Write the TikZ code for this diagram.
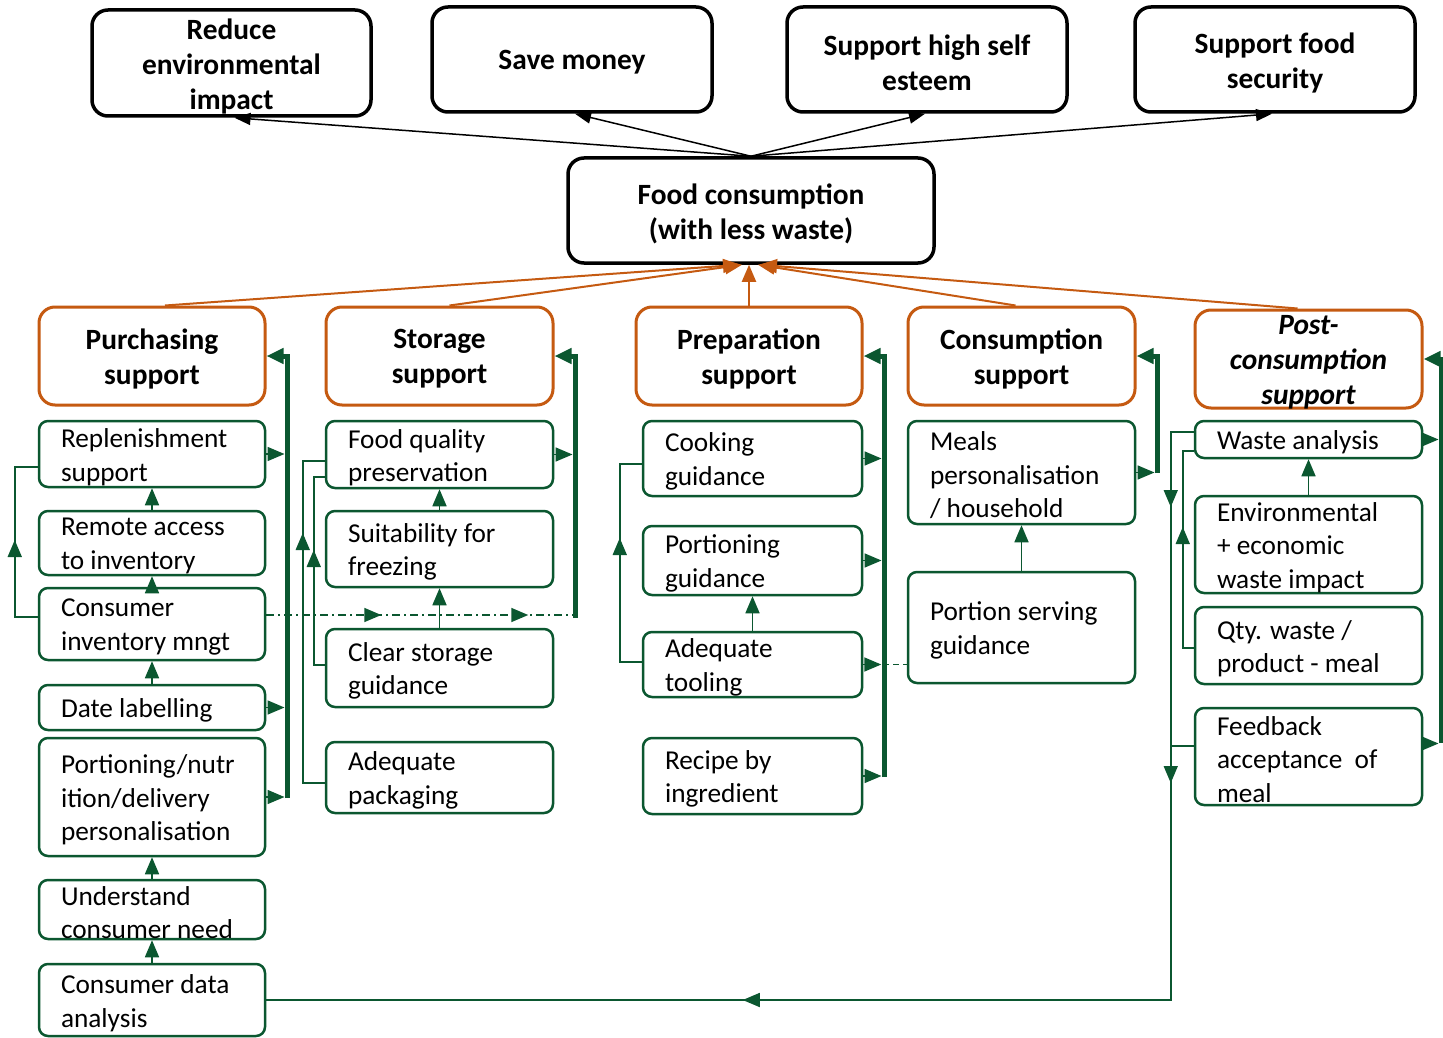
\documentclass[tikz,border=0pt]{standalone}
\usepackage{fontspec}
\setmainfont{Carlito}
\usetikzlibrary{arrows.meta,decorations.markings}

\definecolor{leafgreen}{HTML}{0B5730}
\definecolor{rust}{HTML}{C55A11}

\newcommand{\bodyfont}{\fontsize{27.3}{33.5}\selectfont}
\newcommand{\boldfont}{\fontsize{29.4}{35}\selectfont\bfseries}

% #1 style, #2 name, #3-#6 corners (x1,y1,x2,y2), #7 alignment code, #8 text
\newcommand{\placebox}[8]{%
  \pgfmathsetmacro{\bw}{#5-#3}%
  \pgfmathsetmacro{\bh}{#6-#4}%
  \node[#1, minimum width=\bw pt, minimum height=\bh pt, inner sep=0pt]
    (#2) at ({(#3+#5)/2},{(#4+#6)/2})
    {\vbox to \bh pt{\vss\kern6pt\hsize=\bw pt\parindent=0pt #7#8\par\vss}};}
\newcommand{\featbox}[6]{\placebox{feat}{#1}{#2}{#3}{#4}{#5}{\raggedright\leftskip=22pt\relax}{#6}}

\begin{document}
\begin{tikzpicture}[x=1pt, y=-1pt,
  goal/.style={draw=black, line width=3.5pt, rounded corners=16pt, font=\boldfont},
  area/.style={draw=rust, line width=3pt, rounded corners=16pt, font=\boldfont},
  feat/.style={draw=leafgreen, line width=2.5pt, rounded corners=9pt, font=\bodyfont},
  goalarrow/.style={draw=black, line width=1.5pt, -{Triangle[length=16pt,width=12pt]}},
  areaarrow/.style={draw=rust, line width=2pt, -{Triangle[length=17pt,width=14pt]}},
  link/.style={draw=leafgreen, line width=1.6pt},
  linkarrow/.style={link, -{Triangle[length=17pt,width=14pt]}},
  spine/.style={draw=leafgreen, line width=5pt, -{Triangle[length=17pt,width=15pt]}},
  flowmark/.style={postaction={solid, decorate, decoration={markings,
      mark=at position #1 with {\arrow{Triangle[length=17pt,width=14pt]}}}}},
  dashlink/.style={link, dash pattern=on 8pt off 4pt on 2pt off 4pt},
  dashedlink/.style={link, dash pattern=on 6pt off 4pt},
]
\path[use as bounding box, fill=white] (0,0) rectangle (1443,1038);

% ---- goals ----
\placebox{goal}{reduce}{92}{10}{371}{116}{\centering}{Reduce\\environmental\\impact}
\placebox{goal}{money}{432}{7}{712}{112}{\centering}{Save money}
\placebox{goal}{esteem}{787}{7}{1067}{112}{\centering}{Support high self\\esteem}
\placebox{goal}{security}{1135}{7}{1415}{112}{\centering}{Support food\\security}
\placebox{goal}{fc}{568}{158}{934}{263}{\centering}{Food consumption\\(with less waste)}

% ---- support areas ----
\placebox{area}{purch}{39}{307}{265}{405}{\centering}{Purchasing\\support}
\placebox{area}{stor}{326}{307}{553}{405}{\centering}{Storage\\support}
\placebox{area}{prep}{636}{307}{862}{405}{\centering}{Preparation\\support}
\placebox{area}{cons}{908}{307}{1135}{405}{\centering}{Consumption\\support}
\placebox{area}{post}{1195}{310}{1422}{408}{\centering\itshape}{Post-\\consumption\\support}

% ---- purchasing features ----
\featbox{repl}{39}{421}{265}{487}{Replenishment\\support}
\featbox{remote}{39}{511}{265}{575}{Remote access\\to inventory}
\featbox{cinv}{39}{588}{265}{660}{Consumer\\inventory mngt}
\featbox{date}{39}{685}{265}{730}{Date labelling}
\featbox{pers}{39}{738}{265}{856}{Portioning/nutr\\ition/delivery\\personalisation}
\featbox{need}{39}{880}{265}{939}{Understand\\consumer need}
\featbox{cda}{39}{964}{265}{1036}{Consumer data\\analysis}

% ---- storage features ----
\featbox{fq}{326}{421}{553}{488}{Food quality\\preservation}
\featbox{freeze}{326}{511}{553}{587}{Suitability for\\freezing}
\featbox{clear}{326}{629}{553}{707}{Clear storage\\guidance}
\featbox{pack}{326}{742}{553}{813}{Adequate\\packaging}

% ---- preparation features ----
\featbox{cook}{643}{421}{862}{496}{Cooking\\guidance}
\featbox{pguide}{643}{526}{862}{595}{Portioning\\guidance}
\featbox{tool}{643}{632}{862}{697}{Adequate\\tooling}
\featbox{recipe}{643}{738}{862}{814}{Recipe by\\ingredient}

% ---- consumption features ----
\featbox{meals}{908}{421}{1135}{524}{Meals\\personalisation\\/ household}
\featbox{pserv}{908}{572}{1135}{683}{Portion serving\\guidance}

% ---- post-consumption features ----
\featbox{waste}{1195}{421}{1422}{458}{Waste analysis}
\featbox{env}{1195}{496}{1422}{593}{Environmental\\+ economic\\waste impact}
\featbox{qty}{1195}{607}{1422}{684}{Qty. waste /\\product - meal}
\featbox{fb}{1195}{708}{1422}{805}{Feedback\\acceptance\ \ of\\meal}

% ---- hub to goals ----
\draw[goalarrow] (fc.north) -- ([xshift=3pt]reduce.south);
\draw[goalarrow] (fc.north) -- ([xshift=3pt]money.south);
\draw[goalarrow] (fc.north) -- ([xshift=-2pt]esteem.south);
\draw[goalarrow] (fc.north) -- ([xshift=-3pt]security.south);

% ---- areas to hub ----
\draw[areaarrow] ([xshift=13pt]purch.north) -- ([xshift=-11pt]fc.south);
\draw[areaarrow] ([xshift=10pt]stor.north) -- ([xshift=-9pt]fc.south);
\draw[areaarrow] (prep.north) -- (prep.north |- fc.south);
\draw[areaarrow] ([xshift=-6pt]cons.north) -- ([xshift=7pt]fc.south);
\draw[areaarrow] ([xshift=-11pt]post.north) -- ([xshift=9pt]fc.south);

% ---- collecting spines ----
\coordinate (pspine) at (287,798);
\coordinate (sspine) at (575,618);
\coordinate (prspine) at (884,777);
\coordinate (cspine) at (1157,473);
\coordinate (pcspine) at (1441,743);
\draw[spine] (pspine) |- (purch.east);
\draw[spine] (sspine) |- (stor.east);
\draw[spine] (prspine) |- (prep.east);
\draw[spine] (cspine) |- (cons.east);
\draw[spine] (pcspine) |- (post.east);

% ---- features feeding the spines ----
\draw[linkarrow, shorten >=2.5pt] (repl.east) -- (repl.east -| pspine);
\draw[linkarrow, shorten >=2.5pt] (date.east) -- (date.east -| pspine);
\draw[linkarrow, shorten >=2.5pt] (pers.east) -- (pers.east -| pspine);
\draw[linkarrow, shorten >=2.5pt] (fq.east) -- (fq.east -| sspine);
\draw[linkarrow, shorten >=2.5pt] (cook.east) -- (cook.east -| prspine);
\draw[linkarrow, shorten >=2.5pt] (pguide.east) -- (pguide.east -| prspine);
\draw[linkarrow, shorten >=2.5pt] (recipe.east) -- (recipe.east -| prspine);
\draw[linkarrow, shorten >=2.5pt] (meals.east) -- (meals.east -| cspine);
\draw[linkarrow, shorten >=2.5pt] (waste.east) -- (waste.east -| pcspine);
\draw[linkarrow, shorten >=2.5pt] ([yshift=13pt]fb.east) -- ([yshift=13pt]fb.east -| pcspine);

% ---- links between features ----
\draw[linkarrow] (remote.north) -- (repl.south);
\draw[linkarrow] (cinv.north) -- (remote.south);
\draw[linkarrow] (date.north) -- (cinv.south);
\draw[linkarrow] (need.north) -- (pers.south);
\draw[linkarrow] (cda.north) -- (need.south);
\draw[linkarrow] (freeze.north) -- (fq.south);
\draw[linkarrow] (clear.north) -- (freeze.south);
\draw[linkarrow] (tool.north) -- (pguide.south);
\draw[linkarrow] (pserv.north) -- (meals.south);
\draw[linkarrow] (env.north) -- (waste.south);

% ---- side loops ----
\draw[link, flowmark=100pt] ([yshift=7pt]cinv.west) -- ++(-23,0) |- ([yshift=-13pt]repl.west);
\draw[link, flowmark=272pt] ([yshift=-5.5pt]pack.west) -- ++(-22,0) |- ([yshift=-6.5pt]fq.west);
\draw[link, flowmark=126pt] ([yshift=3pt]clear.west) -- ++(-11,0) |- ([yshift=-22.5pt]fq.west);
\draw[link, flowmark=146pt] ([yshift=2.5pt]tool.west) -- ++(-22,0) |- ([yshift=-5.5pt]cook.west);
\draw[link, flowmark=98pt, flowmark=374pt, flowmark=1019pt]
  ([yshift=7.5pt]waste.west) -- ++(-23,0) |- (cda.east);
\draw[link] ([yshift=10.5pt]fb.west) -- ++(-23,0);
\draw[link, flowmark=132pt] ([yshift=-2.5pt]qty.west) -- ++(-11,0) |- ([yshift=-11.5pt]waste.west);

% ---- cross-area links ----
\draw[dashlink, flowmark=115pt, flowmark=262pt] ([yshift=9pt]cinv.east) -- ([yshift=9pt]cinv.east -| sspine);
\draw[dashedlink, flowmark=18pt] (tool.east) -- (tool.east -| pserv.west);
\end{tikzpicture}
\end{document}
